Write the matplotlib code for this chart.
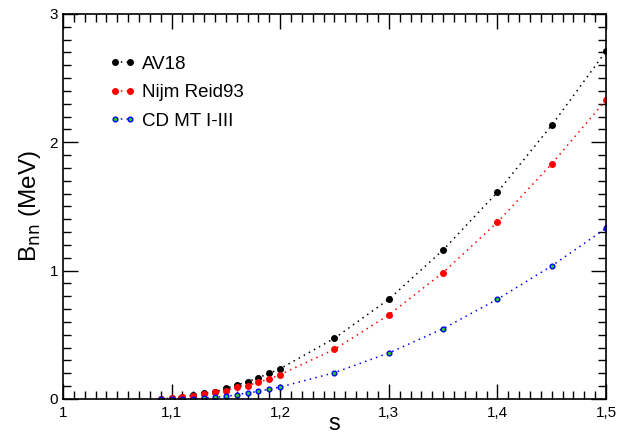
import numpy as np
from matplotlib import pyplot as plt
from matplotlib.ticker import MultipleLocator, FuncFormatter

plt.rcParams['font.family'] = ['Liberation Sans', 'DejaVu Sans']

# s values and binding energies (MeV)
s = [1.09, 1.10, 1.11, 1.12, 1.13, 1.14, 1.15, 1.16, 1.17, 1.18, 1.19, 1.20,
     1.25, 1.30, 1.35, 1.40, 1.45, 1.50]
b_av18 = [0.0, 0.005, 0.018, 0.030, 0.044, 0.057, 0.083, 0.109, 0.135, 0.166, 0.200, 0.236,
          0.473, 0.777, 1.161, 1.611, 2.133, 2.71]
b_nijm = [0.0, 0.004, 0.016, 0.023, 0.036, 0.052, 0.062, 0.096, 0.104, 0.130, 0.156, 0.190,
          0.387, 0.655, 0.985, 1.377, 1.832, 2.33]
b_cdmt = [0.0, 0.0, 0.0, 0.0, 0.008, 0.015, 0.020, 0.034, 0.047, 0.060, 0.075, 0.093,
          0.205, 0.358, 0.548, 0.777, 1.037, 1.33]

series = [
    ("AV18", b_av18, dict(color='black', mfc='black', mec='black', ms=4)),
    ("Nijm Reid93", b_nijm, dict(color='red', mfc='red', mec='red', ms=4)),
    ("CD MT I-III", b_cdmt, dict(color='blue', mfc='#22cc22', mec='blue', ms=3.4, mew=1.0)),
]

fig = plt.figure(figsize=(6.31, 4.37), dpi=100)
ax = fig.add_axes([0.0998, 0.087, 0.8606, 0.881])

for label, vals, st in series:
    ax.plot(s, vals, marker='o', linestyle=(0, (1, 2.8)), linewidth=1.1, label=label, **st)

ax.set_xlim(1.0, 1.5)
ax.set_ylim(0, 3)
ax.xaxis.set_major_locator(MultipleLocator(0.1))
ax.xaxis.set_minor_locator(MultipleLocator(0.01))
ax.yaxis.set_major_locator(MultipleLocator(1))
ax.yaxis.set_minor_locator(MultipleLocator(0.1))
ax.xaxis.set_major_formatter(FuncFormatter(lambda v, p: ("%g" % round(v, 2)).replace('.', ',')))
ax.yaxis.set_major_formatter(FuncFormatter(lambda v, p: "%g" % v))
ax.tick_params(which='both', direction='in', top=True, right=True, labelsize=11, width=1)
ax.tick_params(which='major', length=11)
ax.tick_params(which='minor', length=6)
ax.tick_params(axis='x', pad=5)
for sp in ax.spines.values():
    sp.set_linewidth(1.2)

ax.set_xlabel("s", fontsize=17, labelpad=-5)
ax.set_ylabel(r"B$_{\rm nn}$ (MeV)", fontsize=17.5, labelpad=5)

ax.legend(loc='upper left', bbox_to_anchor=(0.055, 0.935), frameon=False, numpoints=2,
          handlelength=1.4, handletextpad=0.3, labelspacing=0.6, fontsize=13.5)

plt.savefig("out.png", dpi=100)
